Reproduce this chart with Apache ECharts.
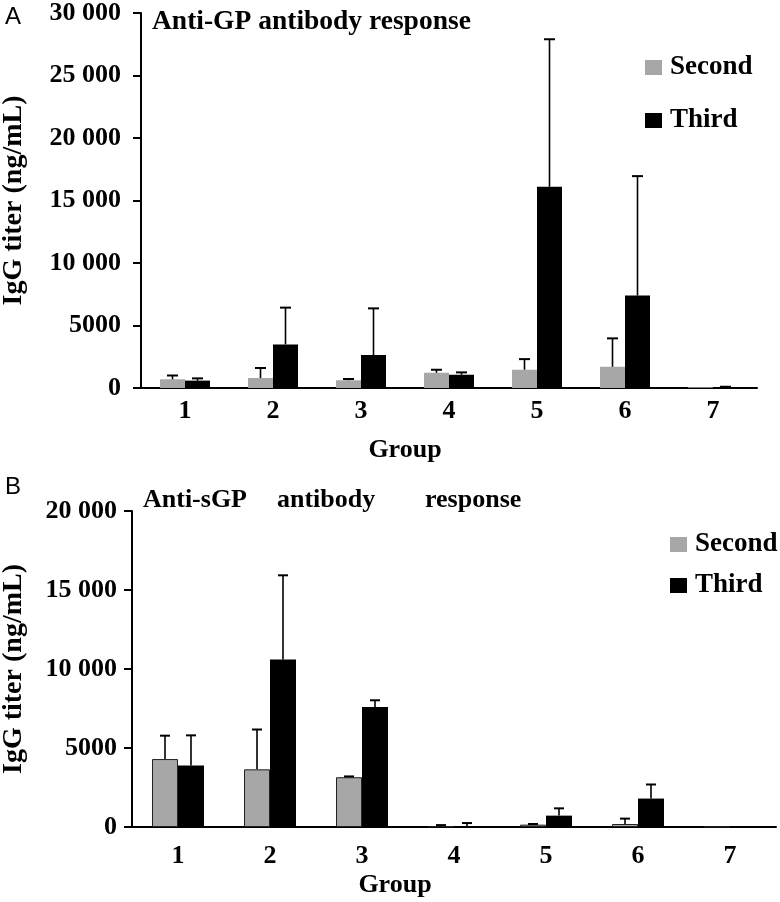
<!DOCTYPE html>
<html><head><meta charset="utf-8">
<script src="https://cdn.jsdelivr.net/npm/echarts@6/dist/echarts.min.js"></script>
<style>html,body{margin:0;padding:0;background:#fff}#c{width:780px;height:902px}</style>
</head><body><div id="c"></div>
<script>
// ---- data ----
const groups = ['1', '2', '3', '4', '5', '6', '7'];
const seriesNames = ['Second', 'Third'];

// Panel A: Anti-GP antibody response (IgG titer, ng/mL)
const secondA = [700, 800, 620, 1220, 1460, 1700, 60];
const secondAErr = [300, 800, 100, 240, 850, 2270, 0];
const thirdA = [590, 3490, 2640, 1060, 16100, 7400, 60];
const thirdAErr = [180, 2940, 3730, 190, 11800, 9550, 40];

// Panel B: Anti-sGP antibody response (IgG titer, ng/mL)
const secondB = [4300, 3650, 3150, 40, 150, 190, 20];
const secondBErr = [1480, 2520, 50, 80, 40, 340, 0];
const thirdB = [3900, 10600, 7600, 60, 720, 1800, 30];
const thirdBErr = [1900, 5330, 420, 190, 460, 890, 0];

const tickValuesA = [0, 5000, 10000, 15000, 20000, 25000, 30000];
const tickLabelsA = ['0', '5000', '10 000', '15 000', '20 000', '25 000', '30 000'];
const tickValuesB = [0, 5000, 10000, 15000, 20000];
const tickLabelsB = ['0', '5000', '10 000', '15 000', '20 000'];

// ---- styling ----
const SERIF = '"Liberation Serif", "Times New Roman", serif';
const GRAY = '#a7a7a7';
const BLACK = '#000000';

const chart = echarts.init(document.getElementById('c'), null, {renderer: 'canvas'});

function fmt(values, labels) {
  return v => { const i = values.indexOf(v); return i >= 0 ? labels[i] : ''; };
}

function errSeries(id, axisIdx, vals, errs, offset, capW) {
  return {
    type: 'custom', id: id, name: id,
    xAxisIndex: axisIdx, yAxisIndex: axisIdx, silent: true, z: 5,
    data: vals.map((v, i) => [i, v, v + errs[i], errs[i]]),
    encode: {x: 0, y: [1, 2]},
    renderItem: function (params, api) {
      if (api.value(3) <= 0) return null;
      const p0 = api.coord([api.value(0), api.value(1)]);
      const p1 = api.coord([api.value(0), api.value(2)]);
      const x = p0[0] + offset;
      return {type: 'group', children: [
        {type: 'line', shape: {x1: x, y1: p0[1], x2: x, y2: p1[1]}, style: {stroke: '#000', lineWidth: 1.6}},
        {type: 'line', shape: {x1: x - capW / 2, y1: p1[1], x2: x + capW / 2, y2: p1[1]}, style: {stroke: '#000', lineWidth: 2}}
      ]};
    }
  };
}

function xAxisCfg(gridIndex, margin) {
  return {
    type: 'category', gridIndex: gridIndex, data: groups,
    axisLine: {lineStyle: {color: '#000', width: 2}},
    axisTick: {show: false},
    axisLabel: {color: '#000', fontFamily: SERIF, fontWeight: 'bold', fontSize: 26, margin: margin}
  };
}
function yAxisCfg(gridIndex, max, values, labels, margin, nameGap) {
  return {
    type: 'value', gridIndex: gridIndex, min: 0, max: max, interval: 5000,
    name: 'IgG titer (ng/mL)', nameLocation: 'middle', nameGap: nameGap,
    nameTextStyle: {color: '#000', fontFamily: SERIF, fontWeight: 'bold', fontSize: 28},
    axisLine: {show: true, lineStyle: {color: '#000', width: 2}},
    axisTick: {show: true, length: 8, lineStyle: {color: '#000', width: 2}},
    splitLine: {show: false},
    axisLabel: {color: '#000', fontFamily: SERIF, fontWeight: 'bold', fontSize: 26, margin: margin,
      formatter: fmt(values, labels)}
  };
}

function legendCfg(left, top, gap) {
  return {
    data: seriesNames, orient: 'vertical', left: left, top: top, itemGap: gap, padding: 0,
    icon: 'rect', itemWidth: 17, itemHeight: 15, selectedMode: false,
    textStyle: {color: '#000', fontFamily: SERIF, fontWeight: 'bold', fontSize: 27, padding: [0, 0, 0, 3]}
  };
}

function txt(text, x, y, font, align) {
  return {type: 'text', x: x, y: y, silent: true,
    style: {text: text, font: font, fill: '#000', textAlign: align || 'left', textVerticalAlign: 'middle'}};
}
const TF = 'bold 26px ' + SERIF;

const option = {
  backgroundColor: '#fff',
  animation: false,
  grid: [
    {left: 141, top: 13, width: 616, height: 375, containLabel: false, outerBoundsMode: 'none'},
    {left: 132, top: 511, width: 644, height: 316, containLabel: false, outerBoundsMode: 'none'}
  ],
  xAxis: [xAxisCfg(0, 10), xAxisCfg(1, 16)],
  yAxis: [yAxisCfg(0, 30000, tickValuesA, tickLabelsA, 20, 113), yAxisCfg(1, 20000, tickValuesB, tickLabelsB, 15, 104)],
  legend: [legendCfg(645, 54, 26), legendCfg(670, 531, 14)],
  graphic: [
    txt('A', 5, 17, '24px "Liberation Sans", Arial, sans-serif'),
    txt('B', 5, 487, '24px "Liberation Sans", Arial, sans-serif'),
    txt('Anti-GP antibody response', 152, 22, 'bold 27.5px ' + SERIF),
    txt('Anti-sGP', 143, 500, TF),
    txt('antibody', 277, 500, TF),
    txt('response', 425, 500, TF),
    txt('Group', 405, 450, TF, 'center'),
    txt('Group', 395, 885, TF, 'center')
  ],
  series: [
    {type: 'bar', name: 'Second', xAxisIndex: 0, yAxisIndex: 0, data: secondA, barWidth: 25, barGap: '0%',
      itemStyle: {color: GRAY}},
    {type: 'bar', name: 'Third', xAxisIndex: 0, yAxisIndex: 0, data: thirdA, barWidth: 25, barGap: '0%',
      itemStyle: {color: BLACK}},
    {type: 'bar', name: 'Second', xAxisIndex: 1, yAxisIndex: 1, data: secondB, barWidth: 26, barGap: '0%',
      itemStyle: {color: GRAY, borderColor: '#222', borderWidth: 1}},
    {type: 'bar', name: 'Third', xAxisIndex: 1, yAxisIndex: 1, data: thirdB, barWidth: 26, barGap: '0%',
      itemStyle: {color: BLACK}},
    errSeries('errSecondA', 0, secondA, secondAErr, -12.5, 11),
    errSeries('errThirdA', 0, thirdA, thirdAErr, 12.5, 11),
    errSeries('errSecondB', 1, secondB, secondBErr, -13, 10),
    errSeries('errThirdB', 1, thirdB, thirdBErr, 13, 10)
  ]
};
chart.setOption(option);
</script>
</body></html>
